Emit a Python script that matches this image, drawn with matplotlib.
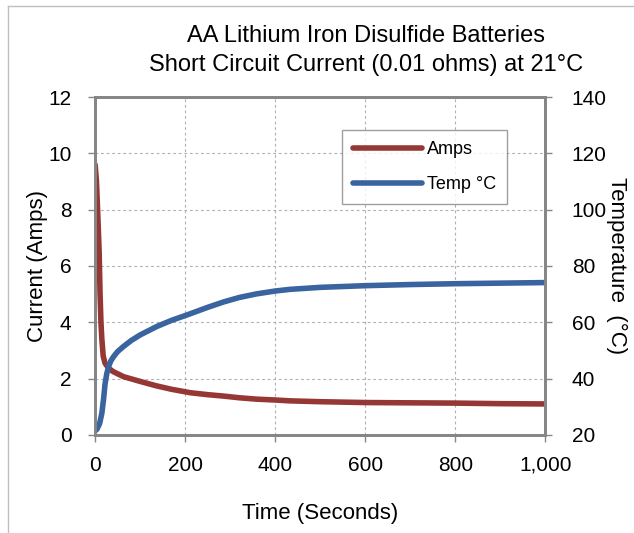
import matplotlib
matplotlib.use("Agg")
import matplotlib.pyplot as plt
from matplotlib.lines import Line2D
from matplotlib.ticker import FuncFormatter

plt.rcParams["font.family"] = ["Liberation Sans", "DejaVu Sans"]

# current readings (seconds, amps)
time_s = [0, 3, 6, 9, 11, 13, 15, 18, 22, 30, 40, 63, 100, 137, 170, 211, 250,
          285, 320, 359, 400, 433, 500, 600, 700, 800, 900, 1000]
amps = [9.6, 9.0, 7.8, 6.5, 5.0, 4.0, 3.4, 2.8, 2.55, 2.37, 2.25, 2.07, 1.9, 1.74,
        1.62, 1.5, 1.43, 1.38, 1.32, 1.27, 1.24, 1.21, 1.18, 1.15, 1.14, 1.13, 1.11, 1.1]

# cell temperature (seconds, deg C)
temp_time = [0, 4, 10, 15, 19, 22, 26, 30, 35, 41, 50, 63, 80, 100, 137, 170, 204,
             250, 285, 320, 359, 400, 433, 500, 600, 700, 800, 900, 1000]
temp_c = [21.5, 22, 24, 27.7, 33, 38, 41.8, 44.3, 46.3, 47.8, 49.6, 51.4, 53.5,
          55.5, 58.5, 60.7, 62.6, 65.3, 67.2, 68.8, 70.1, 71.1, 71.7, 72.4, 73.0,
          73.4, 73.7, 73.9, 74.1]

red = "#953735"
blue = "#3A64A0"
grid_col = "#b0b0b0"
spine_col = "#868686"

fig = plt.figure(figsize=(6.34, 5.33), dpi=100)
ax = fig.add_axes([0.150, 0.184, 0.710, 0.634])
ax2 = ax.twinx()

l1, = ax.plot(time_s, amps, color=red, lw=4, solid_capstyle="round",
              solid_joinstyle="round", label="Amps")
l2, = ax2.plot(temp_time, temp_c, color=blue, lw=4, solid_capstyle="round",
               solid_joinstyle="round", label="Temp °C")

ax.set_xlim(0, 1000)
ax.set_ylim(0, 12)
ax2.set_ylim(20, 140)
ax.set_xticks(range(0, 1001, 200))
ax.set_yticks(range(0, 13, 2))
ax2.set_yticks(range(20, 141, 20))
ax.xaxis.set_major_formatter(FuncFormatter(lambda v, p: f"{int(v):,}"))

ax.grid(True, color=grid_col, ls=(0, (2.5, 2.5)), lw=0.8)
ax.set_axisbelow(True)

for a in (ax, ax2):
    for s in a.spines.values():
        s.set_color(spine_col)
        s.set_linewidth(2)
    a.tick_params(colors=spine_col, labelcolor="black", labelsize=15, length=5, width=1)
ax.tick_params(axis="x", pad=10)
ax.tick_params(axis="y", pad=12)
ax2.tick_params(axis="y", pad=14)

ax.set_xlabel("Time (Seconds)", fontsize=16, labelpad=20)
ax.set_ylabel("Current (Amps)", fontsize=16, labelpad=0)
ax2.set_ylabel("Temperature  (°C)", fontsize=16, rotation=270, labelpad=15)

fig.text(0.577, 0.905, "AA Lithium Iron Disulfide Batteries\nShort Circuit Current (0.01 ohms) at 21°C",
         ha="center", va="center", fontsize=17, linespacing=1.44)

leg = ax2.legend(handles=[l1, l2], loc="upper left", bbox_to_anchor=(0.549, 0.902),
                 borderaxespad=0, fontsize=13, frameon=True, fancybox=False,
                 handlelength=3.8, borderpad=0.6, labelspacing=1.0, handletextpad=0.3)
leg.get_frame().set_edgecolor(spine_col)
leg.get_frame().set_linewidth(1)

# outer frame (left and top edges only, as in the source image)
fig.add_artist(Line2D([8 / 634, 8 / 634], [0, 1 - 6 / 533], color="#bfbfbf", lw=1,
                      transform=fig.transFigure))
fig.add_artist(Line2D([8 / 634, 1], [1 - 6 / 533, 1 - 6 / 533], color="#bfbfbf", lw=1,
                      transform=fig.transFigure))

fig.savefig("out.png", dpi=100)
